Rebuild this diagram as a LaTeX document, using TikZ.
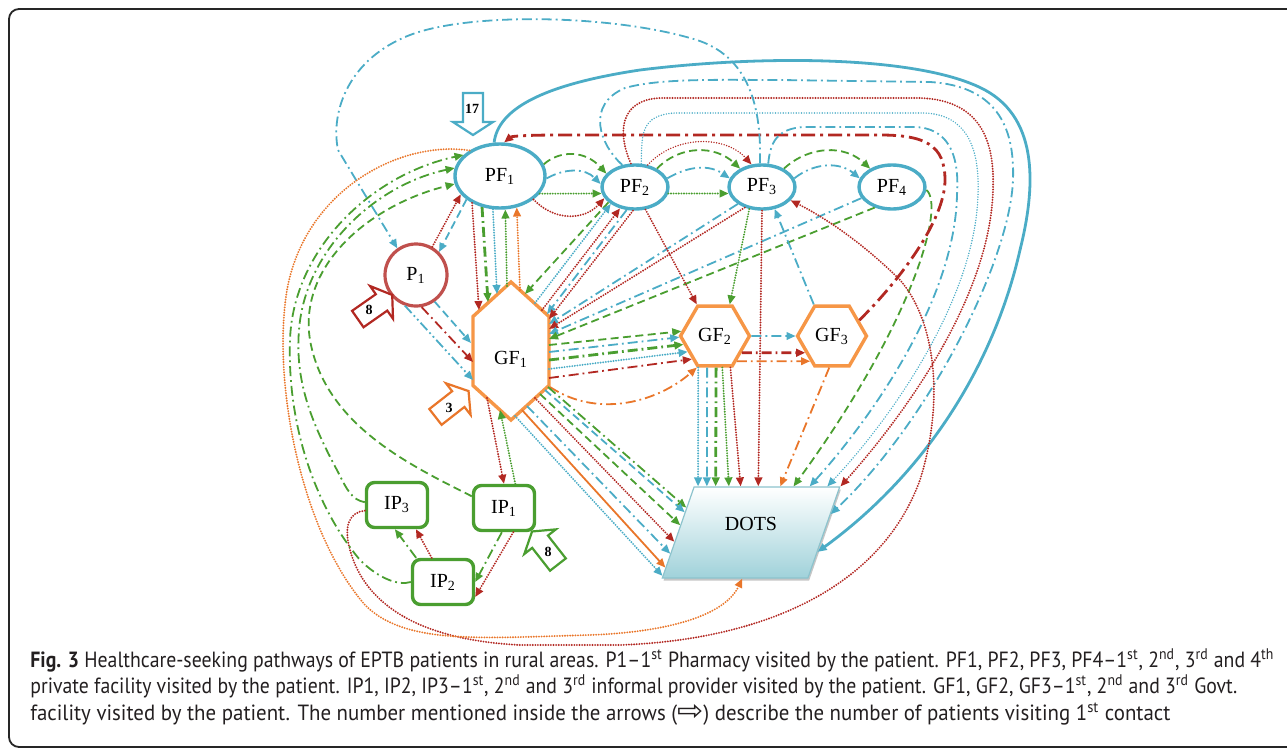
\documentclass[tikz,border=0pt]{standalone}
\usepackage{fontspec}
\setmainfont{Liberation Serif}
\newfontfamily\capfont{PT Sans}
\newfontfamily\symfont{DejaVu Sans}
\usepackage{graphicx}
\usepackage{tikz}
\usetikzlibrary{shapes.geometric,arrows.meta,calc,shadows}
\definecolor{cblue}{RGB}{75,172,198}
\definecolor{cred}{RGB}{178,40,34}
\definecolor{cgreen}{RGB}{74,158,48}
\definecolor{corange}{RGB}{233,118,42}
\definecolor{chex}{RGB}{246,150,70}
\definecolor{cpink}{RGB}{192,80,77}
\definecolor{cdots}{RGB}{160,210,218}
\definecolor{cdotsln}{RGB}{140,195,205}
\definecolor{capgray}{RGB}{35,31,32}
\tikzset{
    pf-node/.style = {draw=cblue, fill=white, line width=1.7pt, ellipse, inner sep=0pt, minimum width=33pt, minimum height=22pt},
    p-node/.style = {draw=cpink, fill=white, line width=1.6pt, circle, inner sep=0pt, minimum size=31pt},
    gf-hex/.style = {draw=chex, fill=white, line width=1.7pt, regular polygon, regular polygon sides=6, inner sep=0pt, minimum size=34.5pt},
    ip-box/.style = {draw=cgreen, fill=white, line width=1.7pt, rounded corners=4pt, inner sep=0pt, minimum width=30.5pt, minimum height=22.5pt},
    dots-box/.style = {trapezium, trapezium left angle=65, trapezium right angle=115, trapezium stretches=true, draw=cdotsln, line width=0.6pt, top color=white, bottom color=cdots, minimum width=89pt, minimum height=45.5pt, inner sep=0pt, text depth=9pt, drop shadow={shadow xshift=0.6pt, shadow yshift=-1.3pt, opacity=0.45}},
    count-num/.style = {font=\bfseries\scriptsize, inner sep=0pt},
    count-arrow/.pic = {\draw[pic actions, line width=1.1pt, fill=white] (-21,-10) -- (8,-10) -- (8,-20) -- (21,0) -- (8,20) -- (8,10) -- (-21,10) -- cycle;},
    cap-line/.style = {anchor=base west, inner sep=0pt, text=capgray, font=\capfont\fontsize{11}{13}\selectfont},
    ln/.style = {line width=0.9pt, -{Triangle[length=4.5pt,width=3.8pt]}},
    solid-ln/.style = {ln},
    dot-ln/.style = {ln, line width=1.05pt, line cap=round, dash pattern=on 0pt off 1.3pt},
    dash-ln/.style = {ln, dash pattern=on 4pt off 2.2pt},
    dd-ln/.style = {ln, dash pattern=on 5pt off 2pt on 0.9pt off 2pt},
    ddd-ln/.style = {ln, dash pattern=on 5pt off 1.6pt on 0.9pt off 1.6pt on 0.9pt off 1.6pt},
    ldd-ln/.style = {ln, line width=1.4pt, dash pattern=on 7pt off 2.5pt on 1.5pt off 2.5pt},
    heavy/.style = {line width=1.4pt},
    c-b/.style = {color=cblue},
    c-r/.style = {color=cred},
    c-g/.style = {color=cgreen},
    c-o/.style = {color=corange},
}
\begin{document}
\begin{tikzpicture}[x=0.5pt,y=-0.5pt]
\useasboundingbox (0,0) rectangle (1287,750);
\draw[line width=0.9pt, rounded corners=5pt, black!85] (9,9) rectangle (1310,747);

\node[pf-node, minimum width=45pt, minimum height=32pt] (PF1) at (500,176) {PF\textsubscript{1}};
\node[pf-node] (PF2) at (635,187) {PF\textsubscript{2}};
\node[pf-node] (PF3) at (762,187) {PF\textsubscript{3}};
\node[pf-node] (PF4) at (892,187) {PF\textsubscript{4}};
\node[p-node] (P1) at (416,275) {P\textsubscript{1}};
\node[gf-hex, minimum size=69pt, regular polygon rotate=30, xscale=0.636] (GF1) at (511,351) {};
\node[inner sep=0pt] (GF1-lbl) at ($(GF1)+(0,8)$) {GF\textsubscript{1}};
\node[gf-hex] (GF2) at (715,336) {GF\textsubscript{2}};
\node[gf-hex] (GF3) at (832,336) {GF\textsubscript{3}};
\node[ip-box] (IP3) at (397,505) {IP\textsubscript{3}};
\node[ip-box] (IP1) at (504,508) {IP\textsubscript{1}};
\node[ip-box] (IP2) at (443,582) {IP\textsubscript{2}};
\node[dots-box] (DOTS) at (751,532.5) {DOTS};

\foreach \f [count=\i] in {0.03,0.09,0.15,0.24,0.32,0.44,0.59,0.68,0.79,0.91,1.0}
    \coordinate (dt-\i) at ($(DOTS.top left corner)!\f!(DOTS.top right corner)$);
\foreach \f [count=\i] in {0.23,0.28,0.42,0.6,0.73,0.88,0.97}
    \coordinate (dl-\i) at ($(DOTS.top left corner)!\f!(DOTS.bottom left corner)$);
\coordinate (dr-1) at ($(DOTS.top right corner)!0.3!(DOTS.bottom right corner)$);
\coordinate (dr-2) at ($(DOTS.top right corner)!0.71!(DOTS.bottom right corner)$);
\coordinate (db) at ($(DOTS.bottom left corner)!0.55!(DOTS.bottom right corner)$);

\draw[dash-ln, c-g] (PF1.15) .. controls (560,150) and (585,150) .. (PF2.155);
\draw[dd-ln, c-b] (PF1.-3) .. controls (565,168) and (585,168) .. (PF2.175);
\draw[dot-ln, c-g] (PF1.-24) -- (PF2.191);
\draw[dot-ln, c-r] (PF1.-35) .. controls (555,222) and (585,220) .. (PF2.200);
\draw[dot-ln, c-r, line width=0.8pt] (PF2.60) .. controls (675,135) and (725,135) .. (PF3.115);
\draw[dash-ln, c-g] (PF2.40) .. controls (680,145) and (715,145) .. (PF3.140);
\draw[dd-ln, c-b] (PF2.15) .. controls (690,165) and (710,165) .. (PF3.165);
\draw[dot-ln, c-g] (PF2.-11) -- (PF3.191);
\draw[dash-ln, c-g] (PF3.40) .. controls (810,145) and (845,145) .. (PF4.140);
\draw[dd-ln, c-b] (PF3.15) .. controls (815,162) and (840,162) .. (PF4.165);

\draw[dot-ln, c-r] (P1.60) -- (PF1.205);
\draw[dash-ln, c-b] (PF1.215) -- (P1.45);
\draw[dash-ln, c-b] (P1.-55) -- ($(GF1)+(-40,-8)$);
\draw[dd-ln, c-r] (P1.-80) -- ($(GF1)+(-38,11)$);
\draw[ddd-ln, c-b] (P1.-110) -- ($(GF1)+(-38,29)$);

\draw[dot-ln, c-r] (PF1.224) -- ($(GF1)+(-32,-41)$);
\draw[dd-ln, c-g, heavy] (PF1.240) -- ($(GF1)+(-23,-49)$);
\draw[dot-ln, c-b] (PF1.258) -- ($(GF1)+(-14,-57)$);
\draw[dot-ln, c-g] ($(GF1)+(-4,-65)$) -- (PF1.279);
\draw[dot-ln, c-o] ($(GF1)+(9,-61)$) -- (PF1.298);

\draw[dash-ln, c-g] (PF2.210) -- ($(GF1)+(14,-57)$);
\draw[dot-ln, c-b] ($(GF1)+(24,-48)$) -- (PF2.215);
\draw[dot-ln, c-r] ($(GF1)+(31,-41)$) -- (PF2.235);
\draw[dd-ln, c-b] (PF2.250) -- ($(GF1)+(36,-37)$);
\draw[dot-ln, c-r] (PF2.265) -- ($(GF1)+(38,-32)$);
\draw[dd-ln, c-b] (PF3.215) -- ($(GF1)+(38,-27)$);
\draw[dot-ln, c-r] (PF3.230) -- ($(GF1)+(38,-22)$);
\draw[dd-ln, c-b] (PF4.200) -- ($(GF1)+(38,-17)$);
\draw[dash-ln, c-g] (PF4.230) -- ($(GF1)+(38,-12)$);

\draw[dot-ln, c-r] (PF2.-65) -- (GF2.120);
\draw[dot-ln, c-g] (PF3.-120) -- (GF2.65);
\draw[dot-ln, c-r] (PF3.-90) -- (dt-6);
\draw[dd-ln, c-b] (GF3.120) -- (PF3.-60);
\draw[dd-ln, c-b] (GF2.east) -- (GF3.west);
\draw[dd-ln, c-r, heavy] (GF2.-32) -- (GF3.212);
\draw[dd-ln, c-o] (GF2.-49) -- (GF3.229);

\draw[dash-ln, c-g] ($(GF1)+(38,-6)$) -- (GF2.172);
\draw[dd-ln, c-b] ($(GF1)+(38,1)$) -- (GF2.182);
\draw[dd-ln, c-g, heavy] ($(GF1)+(38,9)$) -- (GF2.195);
\draw[dot-ln, c-b] ($(GF1)+(38,18)$) -- (GF2.210);
\draw[dd-ln, c-r] ($(GF1)+(38,27)$) -- (GF2.225);
\draw[dd-ln, c-o] ($(GF1)+(39,36)$) .. controls (600,420) and (660,400) .. (GF2.240);

\draw[dd-ln, c-g] ($(GF1)+(37,36)$) -- (dl-1);
\draw[dash-ln, c-b] ($(GF1)+(34,39)$) -- (dl-2);
\draw[dash-ln, c-g] ($(GF1)+(29,43)$) -- (dl-3);
\draw[dot-ln, c-r] ($(GF1)+(24,47)$) -- (dl-4);
\draw[dd-ln, c-b] ($(GF1)+(16,55)$) -- (dl-5);
\draw[solid-ln, c-o] ($(GF1)+(11,59)$) -- (dl-6);
\draw[dot-ln, c-b] ($(GF1)+(4,65)$) -- (dl-7);

\draw[dot-ln, c-b] (GF2.242) -- (dt-1);
\draw[dd-ln, c-b] (GF2.256) -- (dt-2);
\draw[dd-ln, c-g, heavy] (GF2.272) -- (dt-3);
\draw[dot-ln, c-g] (GF2.283) -- (dt-4);
\draw[dot-ln, c-r] (GF2.296) -- (dt-5);
\draw[dd-ln, c-o] (GF3.265) -- (dt-7);
\draw[dash-ln, c-g] (PF4.-5) .. controls (945,205) and (915,320) .. (dt-8);

\draw[ldd-ln, c-r] (GF3.30) .. controls (900,280) and (945,220) .. (945,180) .. controls (945,145) and (925,135) .. (880,135) -- (560,135) .. controls (530,135) and (512,136) .. (PF1.83);
\draw[solid-ln, c-b, heavy] (PF1.100) .. controls (498,110) and (540,85) .. (640,70) .. controls (760,55) and (920,55) .. (985,90) .. controls (1040,120) and (1035,190) .. (1020,250) .. controls (995,360) and (930,470) .. (dr-2);
\draw[dd-ln, c-b] (PF2.120) .. controls (600,145) and (585,105) .. (625,88) .. controls (660,78) and (720,80) .. (780,80) -- (930,82) .. controls (995,86) and (1015,125) .. (1013,180) .. controls (1010,260) and (930,420) .. (dr-1);
\draw[dot-ln, c-r] (PF2.100) .. controls (618,135) and (618,100) .. (660,98) -- (920,98) .. controls (980,100) and (995,140) .. (993,190) .. controls (990,300) and (900,420) .. (dt-11);
\draw[dot-ln, c-b, line width=0.8pt] (PF2.75) .. controls (642,135) and (640,115) .. (675,113) -- (925,113) .. controls (965,115) and (980,145) .. (978,195) .. controls (975,300) and (890,420) .. (dt-10);
\draw[dd-ln, c-b] (PF3.75) .. controls (770,145) and (775,128) .. (805,127) -- (915,127) .. controls (945,128) and (960,150) .. (957,195) .. controls (955,300) and (870,420) .. (dt-9);
\draw[dd-ln, c-b] (PF3.95) .. controls (762,100) and (745,52) .. (690,38) .. controls (610,15) and (470,12) .. (410,35) .. controls (350,58) and (330,110) .. (338,150) -- (P1.125);

\draw[dot-ln, c-r] (IP3.190) .. controls (350,512) and (343,525) .. (350,550) .. controls (365,605) and (420,640) .. (520,645) -- (620,645) .. controls (760,640) and (880,590) .. (920,480) .. controls (945,400) and (935,320) .. (900,280) .. controls (860,240) and (820,215) .. (PF3.-25);
\draw[dot-ln, c-o] (PF1.140) .. controls (400,140) and (305,190) .. (287,290) .. controls (272,380) and (300,530) .. (365,605) .. controls (405,645) and (480,638) .. (590,635) .. controls (670,632) and (725,615) .. (db);
\draw[dd-ln, c-g] (IP2.west) .. controls (398,586) and (378,578) .. (360,560) .. controls (318,510) and (287,430) .. (290,340) .. controls (293,250) and (370,175) .. (PF1.150);
\draw[dd-ln, c-g] (IP3.175) .. controls (352,500) and (347,490) .. (338,472) .. controls (310,420) and (295,380) .. (299,330) .. controls (305,250) and (375,185) .. (PF1.170);
\draw[dash-ln, c-g] (IP1.160) .. controls (410,465) and (325,425) .. (310,340) .. controls (298,265) and (370,205) .. (PF1.190);

\draw[dot-ln, c-r] ($(GF1)+(-24,47)$) -- (IP1.north);
\draw[dot-ln, c-g] (IP1.65) -- ($(GF1)+(-11,59)$);
\draw[dd-ln, c-g] (IP1.-95) -- (IP2.0);
\draw[dot-ln, c-r] (IP1.-69) -- (IP2.-25);
\draw[dd-ln, c-g] (IP2.138) -- (IP3.-95);
\draw[dot-ln, c-r] (IP2.115) -- (IP3.-52);

\pic[draw=cblue, rotate=-90] at (473,114) {count-arrow};
\node[count-num] (n-pf) at (472,109) {17};
\pic[draw=cred, rotate=35] at (375,307) {count-arrow};
\node[count-num] (n-p) at (369,310) {8};
\pic[draw=corange, rotate=38] at (452,404) {count-arrow};
\node[count-num] (n-gf) at (449,408) {3};
\pic[draw=cgreen, rotate=128] at (545,548) {count-arrow};
\node[count-num] (n-ip) at (548,552) {8};

\node[cap-line] (cap-1) at (30,667) {\resizebox{622pt}{\height}{\textbf{Fig. 3} Healthcare-seeking pathways of EPTB patients in rural areas. P1–1\textsuperscript{st} Pharmacy visited by the patient. PF1, PF2, PF3, PF4–1\textsuperscript{st}, 2\textsuperscript{nd}, 3\textsuperscript{rd} and 4\textsuperscript{th}}};
\node[cap-line] (cap-2) at (30,693.5) {\resizebox{603.5pt}{\height}{private facility visited by the patient. IP1, IP2, IP3–1\textsuperscript{st}, 2\textsuperscript{nd} and 3\textsuperscript{rd} informal provider visited by the patient. GF1, GF2, GF3–1\textsuperscript{st}, 2\textsuperscript{nd} and 3\textsuperscript{rd} Govt.}};
\node[cap-line] (cap-3) at (30,720) {\resizebox{570pt}{\height}{facility visited by the patient. The number mentioned inside the arrows (\scalebox{1.5}[1.3]{\symfont ⇨}) describe the number of patients visiting 1\textsuperscript{st} contact}};
\end{tikzpicture}
\end{document}
